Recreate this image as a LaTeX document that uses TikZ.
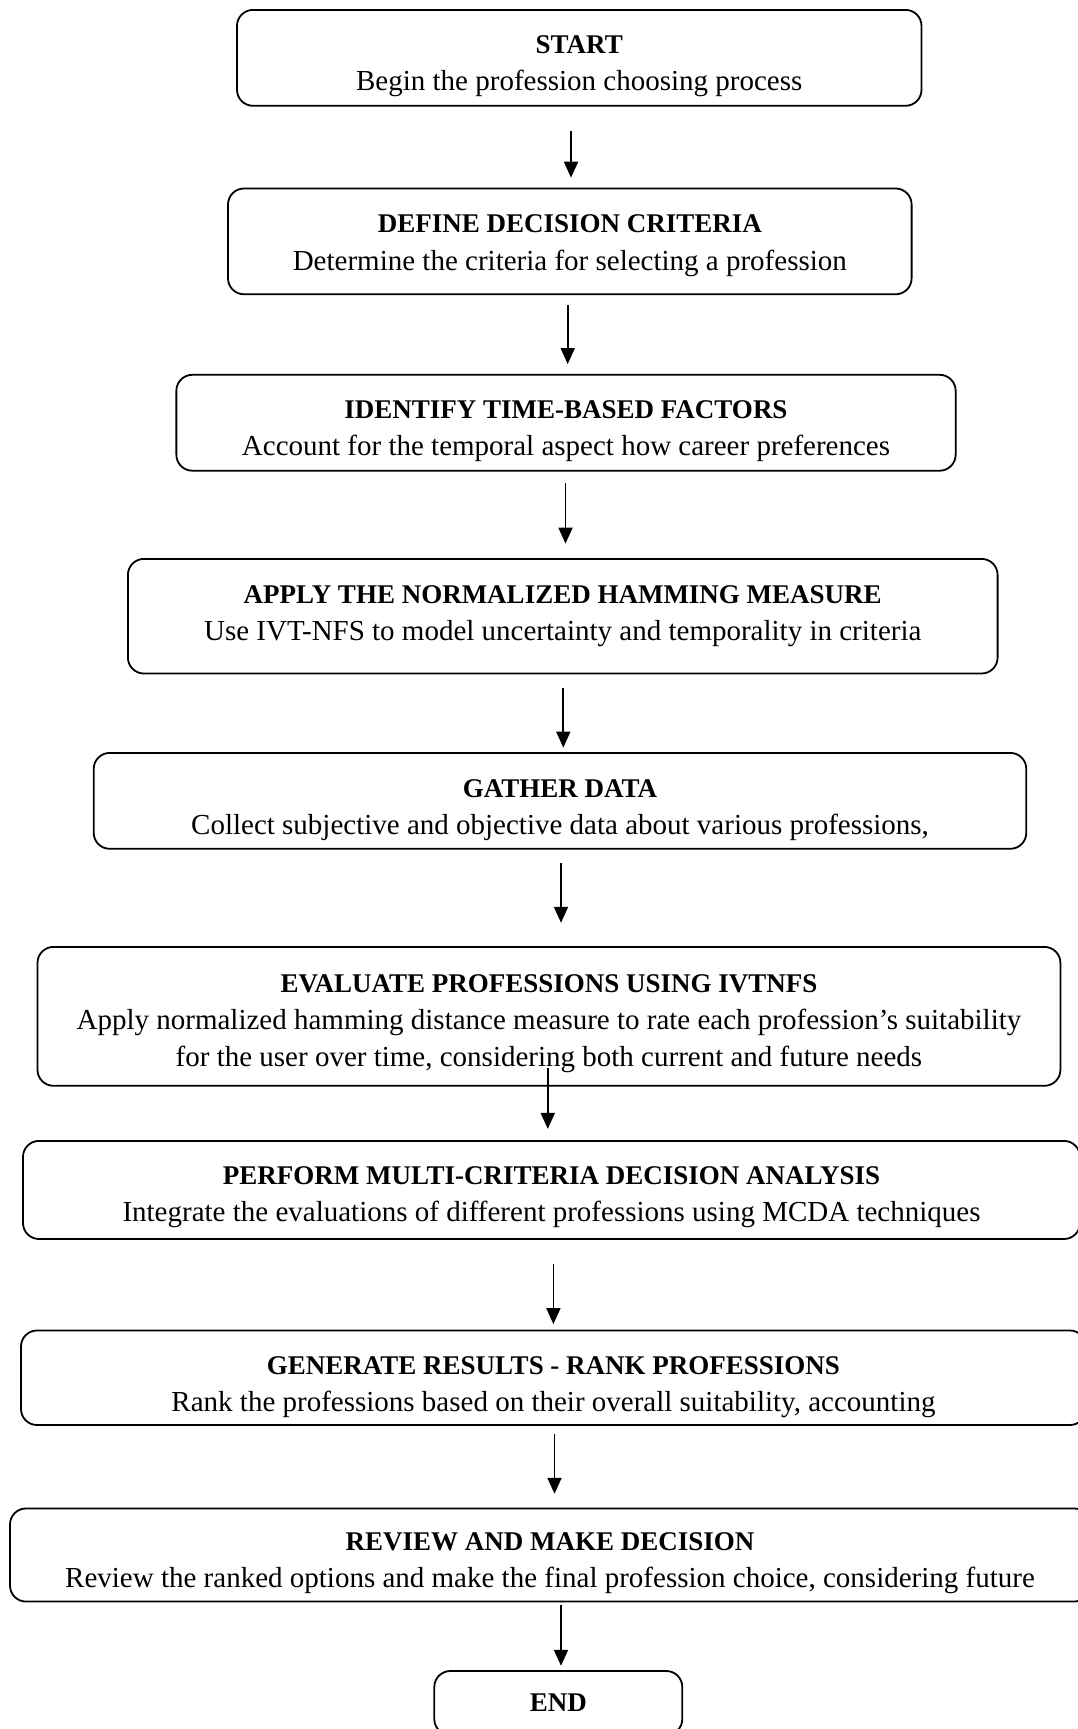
\documentclass[tikz,border=0pt]{standalone}
\usepackage{fontspec}
\setmainfont{Liberation Serif}
\usetikzlibrary{calc,arrows.meta}
\begin{document}
\begin{tikzpicture}[x=1pt,y=-1pt,
  box/.style={draw, line width=1.8pt, rounded corners=16pt, inner sep=0pt},
  ttl/.style={inner sep=0pt, font=\bfseries\fontsize{27}{33}\selectfont},
  sub/.style={inner sep=0pt, align=center, font=\fontsize{29}{36.5}\selectfont},
  arr/.style={line width=1.8pt, -{Triangle[length=16pt,width=14pt]}}]
\fill[white] (0,0) rectangle (1078,1729);
\useasboundingbox (0,0) rectangle (1078,1729);
% boxes
\node[box, minimum width=684.5, minimum height=95.9] (b1) at (579.25,57.85) {};
\node[box, minimum width=683.6, minimum height=105.8] (b2) at (569.8,241.4) {};
\node[box, minimum width=779.3, minimum height=95.9] (b3) at (566,422.75) {};
\node[box, minimum width=869.7, minimum height=114.6] (b4) at (562.75,616.2) {};
\node[box, minimum width=932.6, minimum height=95.9] (b5) at (560,800.85) {};
\node[box, minimum width=1022.9, minimum height=138.9] (b6) at (548.95,1016.35) {};
\node[box, minimum width=1057, minimum height=98.1] (b7) at (551.5,1189.95) {};
\node[box, minimum width=1065, minimum height=94.5] (b8) at (553.5,1377.75) {};
\node[box, minimum width=1080, minimum height=93.1] (b9) at (550,1555) {};
\node[box, minimum width=248, minimum height=64] (b10) at (558.3,1703) {};
% texts
\node[ttl] (t1) at (579.25,45) {START};
\node[sub] (s1) at (579.25,83.5) {Begin the profession choosing process};
\node[ttl] (t2) at (569.8,223.7) {DEFINE DECISION CRITERIA};
\node[sub] (s2) at (569.8,263) {Determine the criteria for selecting a profession};
\node[ttl] (t3) at (566,410) {IDENTIFY TIME-BASED FACTORS};
\node[sub] (s3) at (566,448) {Account for the temporal aspect how career preferences};
\node[ttl] (t4) at (562.75,595) {APPLY THE NORMALIZED HAMMING MEASURE};
\node[sub] (s4) at (562.75,633.5) {Use IVT-NFS to model uncertainty and temporality in criteria};
\node[ttl] (t5) at (560,789) {GATHER DATA};
\node[sub] (s5) at (560,827.5) {Collect subjective and objective data about various professions,};
\node[ttl] (t6) at (548.95,984) {EVALUATE PROFESSIONS USING IVTNFS};
\node[sub] (s6) at (548.95,1040.8) {Apply normalized hamming distance measure to rate each profession’s suitability\\for the user over time, considering both current and future needs};
\node[ttl] (t7) at (551.5,1176) {PERFORM MULTI-CRITERIA DECISION ANALYSIS};
\node[sub] (s7) at (551.5,1214.4) {Integrate the evaluations of different professions using MCDA techniques};
\node[ttl] (t8) at (553.5,1365.6) {GENERATE RESULTS - RANK PROFESSIONS};
\node[sub] (s8) at (553.5,1404) {Rank the professions based on their overall suitability, accounting};
\node[ttl] (t9) at (550,1542) {REVIEW AND MAKE DECISION};
\node[sub] (s9) at (550,1580.4) {Review the ranked options and make the final profession choice, considering future};
\node[ttl] (t10) at (558.3,1703) {END};
% arrows
\draw[arr] ($(b1.south)+(-8.25,24.2)$) -- ($(b1.south |- b2.north)+(-8.25,-9.9)$);
\draw[arr] ($(b2.south)+(-2.1,9.7)$) -- ($(b2.south |- b3.north)+(-2.1,-9.8)$);
\draw[arr] ($(b3.south)+(-0.5,11)$) -- ($(b3.south |- b4.north)+(-0.5,-14.4)$);
\draw[arr] ($(b4.south)+(0.55,13.2)$) -- ($(b4.south |- b5.north)+(0.55,-4.4)$);
\draw[arr] ($(b5.south)+(1,13.2)$) -- ($(b5.south |- b6.north)+(1,-23.2)$);
\draw[arr] ($(b6.south)+(-1.15,-18.8)$) -- ($(b6.south |- b7.north)+(-1.15,-11.1)$);
\draw[arr] ($(b7.south)+(1.9,24)$) -- ($(b7.south |- b8.north)+(1.9,-5.5)$);
\draw[arr] ($(b8.south)+(1,8)$) -- ($(b8.south |- b9.north)+(1,-13.8)$);
\draw[arr] ($(b9.south)+(11,2.4)$) -- ($(b9.south |- b10.north)+(11,-4.3)$);
\end{tikzpicture}
\end{document}
